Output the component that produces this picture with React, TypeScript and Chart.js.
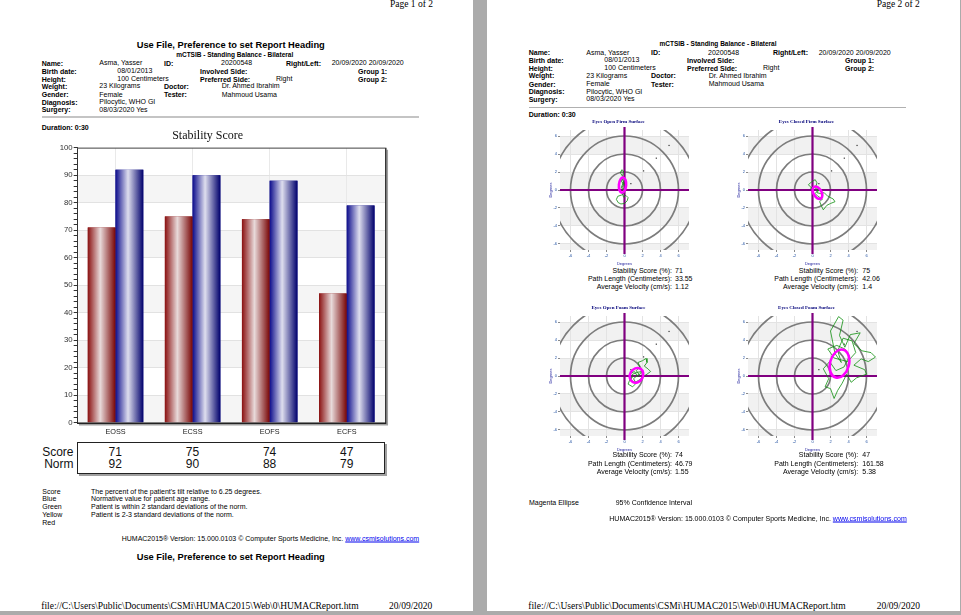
import React, { useEffect, useRef } from "react";
import { Chart, registerables } from "chart.js";
Chart.register(...registerables);

const SANS = '"Liberation Sans", Arial, Helvetica, sans-serif';
const SERIF = '"Liberation Serif", "Times New Roman", Times, serif';

// ---- Stability Score bar chart ----
const CATEGORIES = ["EOSS", "ECSS", "EOFS", "ECFS"];
const SCORE = [71, 75, 74, 47];
const NORM = [92, 90, 88, 79];
const ROW_LABELS = ["Score", "Norm"];
const BAR_BAND_STARTS = [0, 20, 40, 60, 80];
const BAR_BAND_STEP = 10;

// ---- Sway target plots ----
const TARGET_TITLES = [
  "Eyes Open Firm Surface",
  "Eyes Closed Firm Surface",
  "Eyes Open Foam Surface",
  "Eyes Closed Foam Surface",
];
const PATH_LENGTH = ["33.55", "42.06", "46.79", "161.58"];
const AVG_VELOCITY = ["1.12", "1.4", "1.55", "5.38"];
const RING_RADII = [2, 4, 6, 8];
const RING_MARKS = [1, 3, 5, 7];
const TARGET_TICKS = [-6, -4, -2, 0, 2, 4, 6];
const TARGET_BAND_STARTS = [-8, -4, 0, 4];
const TARGET_BAND_STEP = 2;
const ELL_CX = [-0.22, 0.55, 1.33, 3.0];
const ELL_CY = [0.55, -0.3, 0.07, 1.37];
const ELL_RX = [0.4, 0.45, 0.72, 1.05];
const ELL_RY = [0.85, 0.75, 0.85, 1.6];
const ELL_ANGLE = [5, -30, 30, 15];

const PATH_EO_FIRM = [
  [-0.3, 0.2], [-0.1, 0.6], [-0.35, 1.0], [-0.2, 1.5], [-0.45, 1.9], [-0.3, 2.25],
  [-0.1, 2.1], [-0.2, 1.6], [0.05, 1.2], [-0.15, 0.8], [0.1, 0.4], [-0.2, 0.0],
  [0.0, -0.3], [-0.3, -0.55], [-0.75, -0.7], [-0.9, -1.05], [-0.7, -1.4], [-0.4, -1.55],
  [0.0, -1.5], [0.3, -1.2], [0.4, -0.85], [0.15, -0.6], [-0.1, -0.8], [-0.25, -0.4],
  [-0.05, -0.1], [-0.35, 0.3], [-0.1, 0.9], [-0.3, 1.3],
];
const PATH_EC_FIRM = [
  [0.2, 0.0], [-0.3, 0.4], [-0.45, 0.6], [-0.1, 0.9], [0.3, 1.15], [0.5, 0.8],
  [0.35, 0.3], [0.75, 0.1], [0.5, -0.3], [0.9, -0.4], [1.3, -0.3], [1.7, -0.7],
  [2.3, -1.0], [2.5, -1.3], [2.0, -1.5], [1.6, -1.7], [1.2, -2.2], [1.0, -1.8],
  [0.8, -1.3], [1.1, -1.0], [0.6, -0.7], [0.3, -0.4], [0.6, 0.0], [0.2, 0.3],
  [-0.2, 0.2], [0.1, -0.2],
];
const PATH_EO_FOAM = [
  [1.0, 0.0], [0.6, -0.4], [0.4, -0.9], [0.9, -1.2], [1.3, -0.8], [1.0, -0.3],
  [1.6, 0.2], [1.3, 0.6], [1.7, 1.0], [1.5, 1.5], [2.0, 1.7], [2.4, 1.95],
  [2.5, 1.5], [2.2, 1.1], [2.6, 0.8], [2.9, 0.5], [2.5, 0.2], [2.0, -0.1],
  [1.7, -0.4], [1.2, -0.7], [0.7, -0.5], [0.9, 0.2], [1.4, 0.4], [1.9, 0.5],
  [1.5, -0.1], [1.1, 0.5], [0.7, 0.3],
];
const PATH_EC_FOAM = [
  [3.2, 1.5], [2.5, 2.5], [2.2, 4.0], [2.0, 5.0], [2.9, 6.6], [3.4, 6.2],
  [3.0, 4.5], [3.6, 3.2], [4.2, 4.6], [5.3, 4.8], [4.6, 3.6], [5.5, 2.8],
  [6.5, 2.6], [7.0, 2.1], [6.2, 1.6], [5.4, 1.9], [4.6, 1.2], [5.8, 0.7],
  [6.0, 0.2], [4.9, -0.2], [4.3, -0.7], [3.8, 0.2], [3.3, -0.8], [2.8, -1.6],
  [2.4, -2.5], [2.0, -1.4], [1.4, -1.2], [1.8, -0.3], [1.2, 0.8], [1.9, 1.6],
  [2.6, 0.6], [3.5, 1.0], [4.1, 2.2], [3.6, 3.0], [2.7, 3.4], [1.7, 3.0],
  [2.4, 2.0], [3.9, 1.6], [4.8, 2.6], [4.4, 3.9], [3.4, 4.2], [2.8, 2.8], [3.2, 1.5],
];
const PATHS = [PATH_EO_FIRM, PATH_EC_FIRM, PATH_EO_FOAM, PATH_EC_FOAM];

// ---------------------------------------------------------------------------
type TxtProps = {
  x: number; y: number; children: React.ReactNode; size?: number; bold?: boolean;
  align?: "left" | "center" | "right"; color?: string; font?: string;
};
function Txt({ x, y, children, size = 7, bold = false, align = "left", color = "#000", font = SANS }: TxtProps) {
  const tx = align === "left" ? "0" : align === "center" ? "-50%" : "-100%";
  return (
    <div
      style={{
        position: "absolute", left: x, top: y, transform: `translate(${tx}, -50%)`,
        fontSize: size, fontWeight: bold ? 700 : 400, fontFamily: font, color,
        whiteSpace: "nowrap", lineHeight: 1,
      }}
    >
      {children}
    </div>
  );
}

const HEAD_ROWS = [63, 70.7, 78.7, 86, 94.3, 102, 109.3];
const HEAD_LABELS = ["Name:", "Birth date:", "Height:", "Weight:", "Gender:", "Diagnosis:", "Surgery:"];
function Header({ dx, dy }: { dx: number; dy: number }) {
  const r = HEAD_ROWS.map((v) => v + dy);
  const X = (v: number) => v + dx;
  return (
    <>
      {HEAD_LABELS.map((s, i) => (
        <Txt key={s} x={X(41.7)} y={r[i]} bold>{s}</Txt>
      ))}
      <Txt x={X(99.3)} y={r[0] - 0.6}>Asma, Yasser</Txt>
      <Txt x={X(164)} y={r[0]} bold>ID:</Txt>
      <Txt x={X(221)} y={r[0] - 0.6}>20200548</Txt>
      <Txt x={X(286)} y={r[0]} bold>Right/Left:</Txt>
      <Txt x={X(331.7)} y={r[0] - 0.6}>20/09/2020 20/09/2020</Txt>

      <Txt x={X(117.3)} y={r[1] - 0.6}>08/01/2013</Txt>
      <Txt x={X(200)} y={r[1]} bold>Involved Side:</Txt>
      <Txt x={X(358)} y={r[1]} bold>Group 1:</Txt>

      <Txt x={X(117.3)} y={r[2] - 0.6}>100 Centimeters</Txt>
      <Txt x={X(200)} y={r[2]} bold>Preferred Side:</Txt>
      <Txt x={X(276)} y={r[2] - 0.6}>Right</Txt>
      <Txt x={X(358)} y={r[2]} bold>Group 2:</Txt>

      <Txt x={X(99.3)} y={r[3] - 0.6}>23 Kilograms</Txt>
      <Txt x={X(164)} y={r[3]} bold>Doctor:</Txt>
      <Txt x={X(221.7)} y={r[3] - 0.6}>Dr. Ahmed Ibrahim</Txt>

      <Txt x={X(99.3)} y={r[4] - 0.6}>Female</Txt>
      <Txt x={X(164)} y={r[4]} bold>Tester:</Txt>
      <Txt x={X(221.7)} y={r[4] - 0.6}>Mahmoud Usama</Txt>

      <Txt x={X(99.3)} y={r[5] - 0.6}>Pilocytic, WHO GI</Txt>
      <Txt x={X(99.3)} y={r[6] - 0.6}>08/03/2020 Yes</Txt>
    </>
  );
}

// ---------------------------------------------------------------------------
const BAR_LEFT = 30, BAR_TOP = 127, BAR_W = 365, BAR_H = 314;
const PLOT_L = 76.7, PLOT_R = 385.3;

function BarChart() {
  const ref = useRef<HTMLCanvasElement>(null);
  useEffect(() => {
    const bands = {
      id: "bands",
      beforeDraw(chart: any) {
        const { ctx, chartArea: a, scales } = chart;
        const y = scales.y;
        ctx.save();
        ctx.fillStyle = "#f5f5f5";
        BAR_BAND_STARTS.forEach((b) => {
          const t = y.getPixelForValue(b + BAR_BAND_STEP);
          const bt = y.getPixelForValue(b);
          ctx.fillRect(a.left, t, a.right - a.left, bt - t);
        });
        ctx.restore();
      },
    };
    const gloss = {
      id: "gloss",
      afterDatasetsDraw(chart: any) {
        const ctx = chart.ctx;
        const stops = [
          ["#8a1010", "#e8dada", "#780404"],
          ["#0c0c8c", "#dedeee", "#00006c"],
        ];
        chart.data.datasets.forEach((_: any, di: number) => {
          const meta = chart.getDatasetMeta(di);
          meta.data.forEach((el: any) => {
            const { x, y, base, width } = el.getProps(["x", "y", "base", "width"], true);
            const l = x - width / 2;
            const g = ctx.createLinearGradient(l, 0, l + width, 0);
            g.addColorStop(0, stops[di][0]);
            g.addColorStop(0.45, stops[di][1]);
            g.addColorStop(1, stops[di][2]);
            ctx.save();
            ctx.fillStyle = g;
            ctx.fillRect(l, y, width, base - y);
            ctx.restore();
          });
        });
      },
    };
    const frame = {
      id: "frame",
      afterDraw(chart: any) {
        const { ctx, chartArea: a } = chart;
        ctx.save();
        ctx.strokeStyle = "#a0a0a0";
        ctx.lineWidth = 1.5;
        ctx.beginPath();
        ctx.moveTo(a.right + 2, a.top + 2);
        ctx.lineTo(a.right + 2, a.bottom + 2);
        ctx.lineTo(a.left + 2, a.bottom + 2);
        ctx.stroke();
        ctx.strokeStyle = "#222";
        ctx.lineWidth = 1.4;
        ctx.beginPath();
        ctx.moveTo(a.left, a.bottom + 0.5);
        ctx.lineTo(a.right + 0.5, a.bottom + 0.5);
        ctx.lineTo(a.right + 0.5, a.top);
        ctx.stroke();
        ctx.strokeStyle = "#555";
        ctx.lineWidth = 1;
        ctx.beginPath();
        ctx.moveTo(a.left, a.top + 0.5);
        ctx.lineTo(a.right, a.top + 0.5);
        ctx.stroke();
        ctx.restore();
      },
    };
    const chart = new Chart(ref.current as HTMLCanvasElement, {
      type: "bar",
      data: {
        labels: CATEGORIES,
        datasets: [
          { label: "Score", data: SCORE, backgroundColor: "#8a1010", borderWidth: 0 },
          { label: "Norm", data: NORM, backgroundColor: "#0c0c8c", borderWidth: 0 },
        ],
      },
      options: {
        animation: false,
        responsive: false,
        events: [],
        datasets: { bar: { categoryPercentage: 0.72, barPercentage: 1.0 } },
        layout: { padding: { left: 0, right: 9.7, top: 0, bottom: 0 } },
        plugins: {
          legend: { display: false },
          tooltip: { enabled: false },
          title: {
            display: true,
            text: "Stability Score",
            font: { family: SERIF, size: 12, weight: "normal" },
            color: "#111",
            padding: { top: 1.5, bottom: 4.8 },
          },
        },
        scales: {
          x: {
            grid: { offset: false, color: "#e9e9e9", drawTicks: false },
            border: { display: false },
            ticks: { font: { family: SANS, size: 7.3 }, color: "#222", padding: 4.6 },
            afterFit: (s: any) => { s.height = 18.3; },
          },
          y: {
            min: 0,
            max: 100,
            ticks: {
              stepSize: 2,
              autoSkip: false,
              callback: (v: any) => (Math.round(v) % 10 === 0 ? String(Math.round(v)) : ""),
              font: { family: SANS, size: 7.8 },
              color: "#333",
              padding: 1,
            },
            grid: {
              color: (c: any) => (c.tick && Math.round(c.tick.value) % 10 === 0 ? "#e2e2e2" : "rgba(0,0,0,0)"),
              tickColor: "#333",
              tickLength: 3.3,
            },
            border: { display: true, color: "#333", width: 1 },
            afterFit: (s: any) => { s.width = 47; },
          },
        },
      } as any,
      plugins: [bands, gloss, frame],
    });
    return () => chart.destroy();
  }, []);
  return (
    <canvas
      ref={ref}
      width={BAR_W}
      height={BAR_H}
      style={{ position: "absolute", left: BAR_LEFT, top: BAR_TOP, width: BAR_W, height: BAR_H }}
    />
  );
}

function ScoreTable() {
  const cw = (PLOT_R - PLOT_L) / CATEGORIES.length;
  const rows = [SCORE, NORM];
  const ys = [451.7, 464.3];
  return (
    <>
      <div
        style={{
          position: "absolute", left: PLOT_L, top: 441.7, width: PLOT_R - PLOT_L - 2, height: 30.5,
          border: "1px solid #222", boxShadow: "2px 2px 0 #a0a0a0",
        }}
      />
      {ROW_LABELS.map((l, r) => (
        <Txt key={l} x={73.5} y={ys[r]} size={12} align="right" color="#111">{l}</Txt>
      ))}
      {rows.map((vals, r) =>
        vals.map((v, i) => (
          <Txt key={r + "-" + i} x={PLOT_L + cw * (i + 0.5)} y={ys[r]} size={12} align="center" color="#111">
            {v}
          </Txt>
        ))
      )}
    </>
  );
}

// ---------------------------------------------------------------------------
const T_HALF_X = 7.1667;
const T_HALF_Y = 6.6667;

function Target({ i, cx, cy }: { i: number; cx: number; cy: number }) {
  const ref = useRef<HTMLCanvasElement>(null);
  const W = 146, H = 148;
  useEffect(() => {
    const bands = {
      id: "tbands",
      beforeDraw(chart: any) {
        const { ctx, chartArea: a, scales } = chart;
        const y = scales.y;
        ctx.save();
        ctx.beginPath();
        ctx.rect(a.left, a.top, a.right - a.left, a.bottom - a.top);
        ctx.clip();
        ctx.fillStyle = "#f1f1f1";
        TARGET_BAND_STARTS.forEach((b) => {
          const t = y.getPixelForValue(b + TARGET_BAND_STEP);
          const bt = y.getPixelForValue(b);
          ctx.fillRect(a.left, t, a.right - a.left, bt - t);
        });
        ctx.restore();
      },
    };
    const rings = {
      id: "rings",
      beforeDatasetsDraw(chart: any) {
        const { ctx, chartArea: a, scales } = chart;
        const x0 = scales.x.getPixelForValue(0);
        const y0 = scales.y.getPixelForValue(0);
        ctx.save();
        ctx.beginPath();
        ctx.rect(a.left, a.top, a.right - a.left, a.bottom - a.top);
        ctx.clip();
        ctx.strokeStyle = "#7c7c7c";
        ctx.lineWidth = 1.7;
        RING_RADII.forEach((r) => {
          const pr = scales.x.getPixelForValue(r) - x0;
          ctx.beginPath();
          ctx.arc(x0, y0, pr, 0, Math.PI * 2);
          ctx.stroke();
        });
        ctx.fillStyle = "#333";
        RING_MARKS.forEach((r) => {
          const d = r / Math.SQRT2;
          ctx.fillRect(scales.x.getPixelForValue(d) - 0.6, scales.y.getPixelForValue(d) - 0.6, 1.2, 1.2);
        });
        ctx.restore();
        ctx.save();
        ctx.strokeStyle = "#800080";
        ctx.lineWidth = 2.2;
        ctx.beginPath();
        ctx.moveTo(a.left, y0);
        ctx.lineTo(a.right, y0);
        ctx.moveTo(x0, a.top - 3);
        ctx.lineTo(x0, a.bottom + 4);
        ctx.stroke();
        ctx.restore();
      },
    };
    const ellipse = {
      id: "ellipse",
      afterDatasetsDraw(chart: any) {
        const { ctx, scales } = chart;
        const px = scales.x.getPixelForValue(ELL_CX[i]);
        const py = scales.y.getPixelForValue(ELL_CY[i]);
        const sx = scales.x.getPixelForValue(ELL_RX[i]) - scales.x.getPixelForValue(0);
        const sy = scales.y.getPixelForValue(0) - scales.y.getPixelForValue(ELL_RY[i]);
        ctx.save();
        ctx.strokeStyle = "#ff00ff";
        ctx.lineWidth = 2.6;
        ctx.beginPath();
        ctx.ellipse(px, py, sx, sy, (ELL_ANGLE[i] * Math.PI) / 180, 0, Math.PI * 2);
        ctx.stroke();
        ctx.restore();
      },
    };
    const axis = (w: boolean) => ({
      type: "linear",
      min: w ? -T_HALF_X : -T_HALF_Y,
      max: w ? T_HALF_X : T_HALF_Y,
      afterBuildTicks: (s: any) => { s.ticks = TARGET_TICKS.map((v) => ({ value: v })); },
      grid: { color: "#e3e3e3", tickLength: 2, tickColor: "#8a8a8a" },
      border: { display: false },
      ticks: { font: { family: SANS, size: 4 }, color: "#1f4fa0", padding: 1, autoSkip: false, maxRotation: 0 },
      title: { display: true, text: "Degrees", font: { family: SANS, size: 4 }, color: "#1a1a9a", padding: 0 },
      afterFit: w ? (s: any) => { s.height = 16; } : (s: any) => { s.width = 12; },
    });
    const chart = new Chart(ref.current as HTMLCanvasElement, {
      type: "scatter",
      data: {
        datasets: [
          {
            data: PATHS[i].map(([x, y]) => ({ x, y })),
            showLine: true,
            borderColor: "#0f8f0f",
            borderWidth: 0.8,
            pointRadius: 0,
            tension: 0,
          },
        ],
      },
      options: {
        animation: false,
        responsive: false,
        events: [],
        layout: { padding: { left: 0, right: 5, top: 0, bottom: 0 } },
        plugins: {
          legend: { display: false },
          tooltip: { enabled: false },
          title: {
            display: true,
            text: TARGET_TITLES[i],
            font: { family: SERIF, size: 5, weight: "bold" },
            color: "#00007a",
            padding: { top: 1, bottom: 5 },
          },
        },
        scales: { x: axis(true), y: axis(false) },
      } as any,
      plugins: [bands, rings, ellipse],
    });
    return () => chart.destroy();
  }, [i]);
  return (
    <canvas
      ref={ref}
      width={W}
      height={H}
      style={{ position: "absolute", left: cx - 64.5 - 12, top: cy - 72, width: W, height: H }}
    />
  );
}

function Stats({ i, labelRight, valueLeft, ys }: { i: number; labelRight: number; valueLeft: number; ys: number[] }) {
  const labels = ["Stability Score (%):", "Path Length (Centimeters):", "Average Velocity (cm/s):"];
  const vals = [String(SCORE[i]), PATH_LENGTH[i], AVG_VELOCITY[i]];
  return (
    <>
      {labels.map((l, k) => (
        <React.Fragment key={l}>
          <Txt x={labelRight} y={ys[k]} align="right">{l}</Txt>
          <Txt x={valueLeft} y={ys[k]}>{vals[k]}</Txt>
        </React.Fragment>
      ))}
    </>
  );
}

const HUMAC = (x: number, y: number) => (
  <Txt x={x} y={y}>
    HUMAC2015® Version: 15.000.0103 © Computer Sports Medicine, Inc.{" "}
    <span style={{ color: "#0000ee", textDecoration: "underline" }}>www.csmisolutions.com</span>
  </Txt>
);

export default function App() {
  const legend = [
    ["Score", "The percent of the patient's tilt relative to 6.25 degrees."],
    ["Blue", "Normative value for patient age range."],
    ["Green", "Patient is within 2 standard deviations of the norm."],
    ["Yellow", "Patient is 2-3 standard deviations of the norm."],
    ["Red", ""],
  ];
  const legendY = [490.7, 498.3, 506, 514, 521.7];
  return (
    <div
      style={{
        position: "fixed", left: 0, top: 0, width: 961, height: 615, background: "#ababab",
        overflow: "hidden", fontFamily: SANS,
      }}
    >
      {/* Page 1 */}
      <div style={{ position: "absolute", left: 0, top: 0, width: 473, height: 611, background: "#fff" }} />
      <Txt x={390} y={4.5} size={9.5} font={SERIF}>Page 1 of 2</Txt>
      <Txt x={136.7} y={45.7} size={9.3} bold>Use File, Preference to set Report Heading</Txt>
      <Txt x={234.7} y={55} size={6.5} bold align="center">mCTSIB - Standing Balance - Bilateral</Txt>
      <Header dx={0} dy={0} />
      <div style={{ position: "absolute", left: 41.7, top: 116.3, width: 377.3, height: 2, background: "#c4c4c4" }} />
      <Txt x={41.7} y={126.7} bold>Duration: 0:30</Txt>
      <BarChart />
      <ScoreTable />
      {legend.map(([a, b], k) => (
        <React.Fragment key={a}>
          <Txt x={42.3} y={legendY[k]}>{a}</Txt>
          {b ? <Txt x={91} y={legendY[k]}>{b}</Txt> : null}
        </React.Fragment>
      ))}
      {HUMAC(121.7, 538)}
      <Txt x={136.7} y={558.3} size={9.3} bold>Use File, Preference to set Report Heading</Txt>
      <Txt x={41.3} y={606.7} size={9.5} font={SERIF}>
        file://C:\Users\Public\Documents\CSMi\HUMAC2015\Web\0\HUMACReport.htm
      </Txt>
      <Txt x={389} y={606.7} size={9.5} font={SERIF}>20/09/2020</Txt>

      {/* Page 2 */}
      <div style={{ position: "absolute", left: 487, top: 0, width: 473, height: 611, background: "#fff" }} />
      <Txt x={876.7} y={4.5} size={9.5} font={SERIF}>Page 2 of 2</Txt>
      <Txt x={718} y={44.3} size={6.5} bold align="center">mCTSIB - Standing Balance - Bilateral</Txt>
      <Header dx={487} dy={-10.7} />
      <div style={{ position: "absolute", left: 528.7, top: 107, width: 377.3, height: 1, background: "#b0b0b0" }} />
      <Txt x={528.7} y={114} bold>Duration: 0:30</Txt>
      <Target i={0} cx={624} cy={190} />
      <Target i={1} cx={812.5} cy={190} />
      <Target i={2} cx={624} cy={375.7} />
      <Target i={3} cx={812.5} cy={375.7} />
      <Stats i={0} labelRight={672} valueLeft={675} ys={[269.5, 277.5, 285.5]} />
      <Stats i={1} labelRight={858.3} valueLeft={862.3} ys={[269.5, 277.5, 285.5]} />
      <Stats i={2} labelRight={672} valueLeft={675} ys={[454.3, 462.5, 470.5]} />
      <Stats i={3} labelRight={858.3} valueLeft={862.3} ys={[454.3, 462.5, 470.5]} />
      <Txt x={529} y={501.7}>Magenta Ellipse</Txt>
      <Txt x={615.7} y={501.7}>95% Confidence Interval</Txt>
      {HUMAC(609.3, 517.7)}
      <Txt x={528.3} y={606.7} size={9.5} font={SERIF}>
        file://C:\Users\Public\Documents\CSMi\HUMAC2015\Web\0\HUMACReport.htm
      </Txt>
      <Txt x={876.7} y={606.7} size={9.5} font={SERIF}>20/09/2020</Txt>
    </div>
  );
}
